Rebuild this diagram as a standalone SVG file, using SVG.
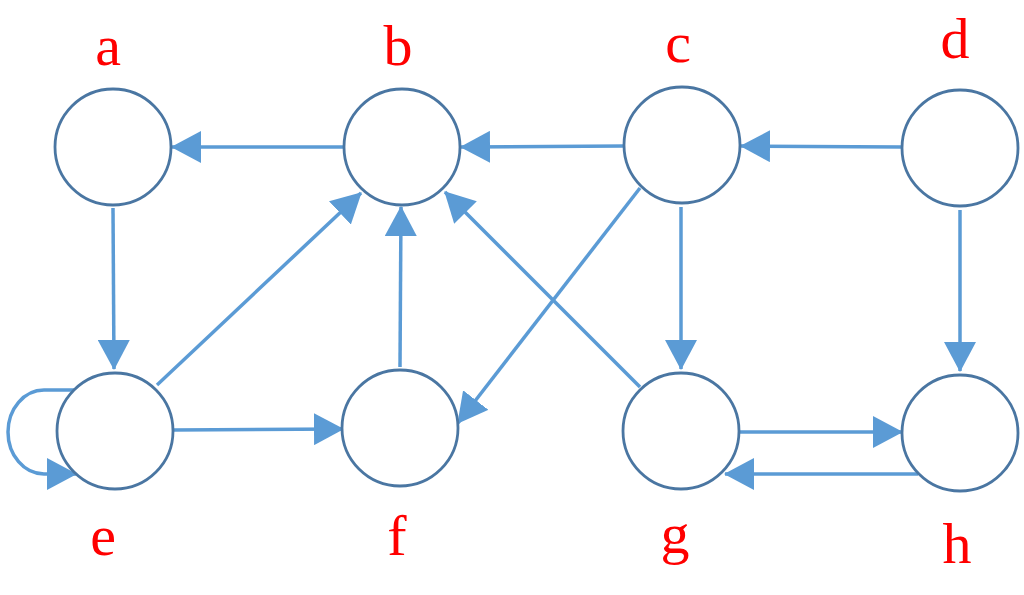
<svg xmlns="http://www.w3.org/2000/svg" width="1024" height="595" viewBox="0 0 1024 595">
<style>
.node{fill:#fff;stroke:#4a76a2;stroke-width:2.8}
.lbl{font-family:"Liberation Serif",serif;font-size:58px;fill:#ff0000;text-anchor:middle}
.edge{fill:none;stroke:#5b9bd5;stroke-width:3.5;marker-end:url(#ah)}
</style>
<defs>
<marker id="ah" markerUnits="userSpaceOnUse" markerWidth="30" markerHeight="32" refX="29" refY="16" orient="auto" viewBox="0 0 30 32">
<path d="M0,0 L30,16 L0,32 z" fill="#5b9bd5"/>
</marker>
</defs>
<rect width="1024" height="595" fill="#fff"/>
<g id="edges">
<path class="edge" d="M345,147 L172,147"/>
<path class="edge" d="M624,146 L461,147"/>
<path class="edge" d="M902,147 L741,146"/>
<path class="edge" d="M113,208 L114,369"/>
<path class="edge" d="M157,385 L361,193"/>
<path class="edge" d="M400,367 L401,207"/>
<path class="edge" d="M640,387 L445,192"/>
<path class="edge" d="M640,188 L458,423"/>
<path class="edge" d="M681,207 L681,369"/>
<path class="edge" d="M960,210 L960,371"/>
<path class="edge" d="M173,430 L343,429"/>
<path class="edge" d="M739,432 L902,432"/>
<path class="edge" d="M918,474 L725,474"/>
<path class="edge" d="M74,390 L44,390 A36,42 0 0 0 44,474 L76,474"/>
</g>
<g id="a"><circle class="node" cx="113" cy="147" r="58"/><text class="lbl" x="108" y="65">a</text></g>
<g id="b"><circle class="node" cx="402" cy="147" r="58"/><text class="lbl" x="398" y="65">b</text></g>
<g id="c"><circle class="node" cx="682" cy="145" r="58"/><text class="lbl" x="678" y="62">c</text></g>
<g id="d"><circle class="node" cx="960" cy="148" r="58"/><text class="lbl" x="955" y="58">d</text></g>
<g id="e"><circle class="node" cx="115" cy="431" r="58"/><text class="lbl" x="103" y="555">e</text></g>
<g id="f"><circle class="node" cx="400" cy="428" r="58"/><text class="lbl" x="397" y="555">f</text></g>
<g id="g"><circle class="node" cx="681" cy="431" r="58"/><text class="lbl" x="675" y="553">g</text></g>
<g id="h"><circle class="node" cx="960" cy="433" r="58"/><text class="lbl" x="957" y="563">h</text></g>
</svg>
